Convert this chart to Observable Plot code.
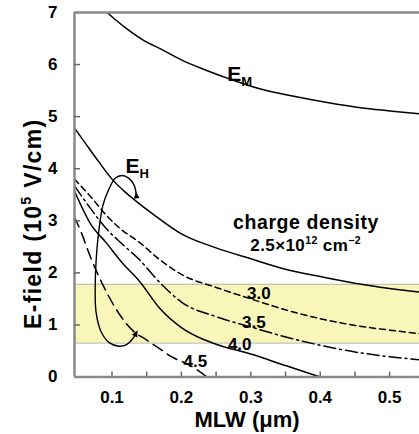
<!DOCTYPE html>
<html><head><meta charset="utf-8">
<script src="https://cdn.jsdelivr.net/npm/d3@7"></script>
<script src="https://cdn.jsdelivr.net/npm/@observablehq/plot@0.6"></script>
<style>
html,body{margin:0;padding:0;background:#fff;}
#chart svg{display:block;}
</style></head><body><div id="chart"></div>
<script>
// ---- data ----
const xDomain = [0.046, 0.543];
const yDomain = [0, 7];
const xTickLabels = [0.1, 0.2, 0.3, 0.4, 0.5];
const xTickMarks = [0.1, 0.15, 0.2, 0.25, 0.3, 0.35, 0.4, 0.45, 0.5];
const yTickLabels = [0, 1, 2, 3, 4, 5, 6, 7];
const yTickMarks = [1, 2, 3, 4, 5, 6];

const emX = [0.093, 0.105, 0.122, 0.145, 0.17, 0.20, 0.23, 0.266, 0.314, 0.362, 0.41, 0.458, 0.50, 0.545];
const emY = [7.0, 6.86, 6.68, 6.47, 6.30, 6.09, 5.92, 5.74, 5.53, 5.39, 5.27, 5.17, 5.11, 5.05];

const d25X = [0.046, 0.06, 0.08, 0.10, 0.12, 0.14, 0.16, 0.20, 0.25, 0.30, 0.35, 0.40, 0.45, 0.50, 0.545];
const d25Y = [4.78, 4.52, 4.15, 3.80, 3.54, 3.32, 3.12, 2.75, 2.48, 2.27, 2.07, 1.93, 1.80, 1.70, 1.63];

const d30X = [0.046, 0.07, 0.091, 0.11, 0.139, 0.17, 0.20, 0.25, 0.30, 0.35, 0.40, 0.45, 0.50, 0.545];
const d30Y = [3.80, 3.45, 3.12, 2.87, 2.59, 2.24, 1.97, 1.72, 1.50, 1.29, 1.12, 0.99, 0.90, 0.83];

const d35X = [0.046, 0.07, 0.091, 0.115, 0.139, 0.17, 0.20, 0.25, 0.30, 0.35, 0.40, 0.45, 0.50, 0.545];
const d35Y = [3.67, 3.22, 2.86, 2.55, 2.26, 1.80, 1.44, 1.16, 0.96, 0.77, 0.61, 0.48, 0.39, 0.33];

const d40X = [0.046, 0.07, 0.091, 0.115, 0.139, 0.17, 0.20, 0.232, 0.25, 0.30, 0.35, 0.40];
const d40Y = [3.57, 2.92, 2.59, 2.19, 1.85, 1.30, 0.95, 0.72, 0.63, 0.44, 0.22, 0.0];

const d45X = [0.046, 0.055, 0.07, 0.091, 0.11, 0.13, 0.15, 0.17, 0.187, 0.21, 0.237];
const d45Y = [3.07, 2.80, 2.27, 1.66, 1.22, 0.89, 0.71, 0.53, 0.38, 0.24, 0.0];

const bandLow = 0.65, bandHigh = 1.78;

const loopX = [0.1350, 0.1320, 0.1240, 0.1140, 0.1050, 0.0960, 0.0870, 0.0810, 0.0770, 0.0758, 0.0770, 0.0840, 0.0960, 0.1100, 0.1210, 0.1290, 0.1350];
const loopY = [3.50, 3.68, 3.82, 3.87, 3.82, 3.62, 3.30, 2.80, 2.20, 1.70, 1.25, 0.88, 0.66, 0.59, 0.62, 0.72, 0.85];

const nameText = ["E_{M}", "E_{H}"];
const nameX = [0.266, 0.1195];
const nameY = [5.81, 4.05];

const densityText = ["charge density", "2.5×10^{12} cm^{−2}"];
const densityX = [0.3795, 0.379];
const densityY = [2.967, 2.52];

const curveLabelText = ["3.0", "3.5", "4.0", "4.5"];
const curveLabelX = [0.3115, 0.3043, 0.284, 0.220];
const curveLabelY = [1.60, 1.054, 0.62, 0.30];

const xTitle = "MLW (μm)";
const yTitle = "E-field (10^{5} V/cm)";

// ---- build tables ----
const toPts = (xs, ys) => xs.map((x, i) => ({x, y: ys[i]}));
const font = "'Liberation Sans', Arial, Helvetica, sans-serif";
const lineOpts = {x: "x", y: "y", curve: "monotone-x", stroke: "black", strokeWidth: 1.5, clip: true};

const plot = Plot.plot({
  width: 419, height: 434,
  marginLeft: 74, marginRight: 0, marginTop: 12, marginBottom: 57.5,
  style: {fontFamily: font, fontWeight: "bold", fontSize: "17px", color: "black", background: "white"},
  x: {domain: xDomain, label: null},
  y: {domain: yDomain, label: null},
  marks: [
    Plot.rect([{lo: bandLow, hi: bandHigh}], {x1: () => xDomain[0], x2: () => xDomain[1], y1: "lo", y2: "hi", fill: "#f8f6b8"}),
    Plot.ruleY([bandLow, bandHigh], {stroke: "#c4c4b0", strokeWidth: 1.2}),
    Plot.line(toPts(emX, emY), lineOpts),
    Plot.line(toPts(d25X, d25Y), lineOpts),
    Plot.line(toPts(d30X, d30Y), {...lineOpts, strokeDasharray: "6,4"}),
    Plot.line(toPts(d35X, d35Y), {...lineOpts, strokeDasharray: "12,4,2,4"}),
    Plot.line(toPts(d40X, d40Y), lineOpts),
    Plot.line(toPts(d45X, d45Y), {...lineOpts, strokeDasharray: "11,6"}),
    Plot.line(toPts(loopX, loopY), {x: "x", y: "y", curve: "catmull-rom", stroke: "black", strokeWidth: 1.4, markerStart: "arrow", markerEnd: "arrow"}),
    Plot.text(nameText, {x: (d, i) => nameX[i], y: (d, i) => nameY[i], text: d => d, textAnchor: "start", fontSize: 21}),
    Plot.text(densityText.slice(0, 1), {x: densityX[0], y: densityY[0], text: d => d, fontSize: 19.5}),
    Plot.text(densityText.slice(1), {x: densityX[1], y: densityY[1], text: d => d, fontSize: 17}),
    Plot.text(curveLabelText, {x: (d, i) => curveLabelX[i], y: (d, i) => curveLabelY[i], text: d => d, fontSize: 17}),
    // frame
    Plot.ruleX([xDomain[0]], {stroke: "#8a8a8a", strokeWidth: 2.5}),
    Plot.ruleY([yDomain[0], yDomain[1]], {stroke: "#8a8a8a", strokeWidth: 2.5}),
    // axes
    Plot.axisX({ticks: xTickMarks, tickSize: -5, tickFormat: () => "", stroke: "#666", strokeWidth: 1.5, label: null}),
    Plot.axisX({ticks: xTickLabels, tickSize: 0, tickPadding: 13.5, tickFormat: d => d.toFixed(1), fontSize: 17, label: null}),
    Plot.axisY({ticks: yTickMarks, tickSize: -6, tickFormat: () => "", stroke: "#666", strokeWidth: 1.5, label: null}),
    Plot.axisY({ticks: yTickLabels, tickSize: 0, tickPadding: 17, tickFormat: d => String(d), fontSize: 17, label: null}),
    Plot.text([xTitle], {frameAnchor: "bottom", textAnchor: "middle", lineAnchor: "middle", dy: 43, text: d => d, fontSize: 22}),
    Plot.text([yTitle], {frameAnchor: "left", textAnchor: "middle", lineAnchor: "middle", dx: -41, dy: 29, rotate: -90, text: d => d, fontSize: 23})
  ]
});

document.getElementById("chart").appendChild(plot);

// filled arrowheads
plot.querySelectorAll("marker").forEach(m => {
  m.setAttribute("fill", "black");
  m.setAttribute("stroke", "none");
  const p = m.querySelector("path");
  if (p) p.setAttribute("d", "M-4,-3.2L3,0L-4,3.2Z");
});

// letter spacing for the big titles / density label
plot.querySelectorAll("text").forEach(t => {
  if (t.textContent === yTitle) t.setAttribute("letter-spacing", "1.3");
  if (t.textContent === densityText[0]) t.setAttribute("letter-spacing", "0.6");
  if (t.textContent === densityText[1]) t.setAttribute("letter-spacing", "0.4");
});

// sub/superscripts
function richText(root) {
  root.querySelectorAll("text").forEach(t => {
    const s = t.textContent;
    if (!/[_^]\{/.test(s)) return;
    const fs = parseFloat(getComputedStyle(t).fontSize) || 16;
    while (t.firstChild) t.removeChild(t.firstChild);
    const re = /([_^])\{([^}]*)\}|([^_^]+)/g;
    let m, shift = 0;
    while ((m = re.exec(s))) {
      const span = document.createElementNS("http://www.w3.org/2000/svg", "tspan");
      if (m[1]) {
        const target = m[1] === "^" ? -0.42 * fs : 0.25 * fs;
        span.setAttribute("dy", target - shift);
        shift = target;
        span.setAttribute("font-size", 0.62 * fs);
        span.textContent = m[2];
      } else {
        if (shift) span.setAttribute("dy", -shift);
        shift = 0;
        span.textContent = m[3];
      }
      t.appendChild(span);
    }
  });
}
richText(plot);
</script>
</body></html>
